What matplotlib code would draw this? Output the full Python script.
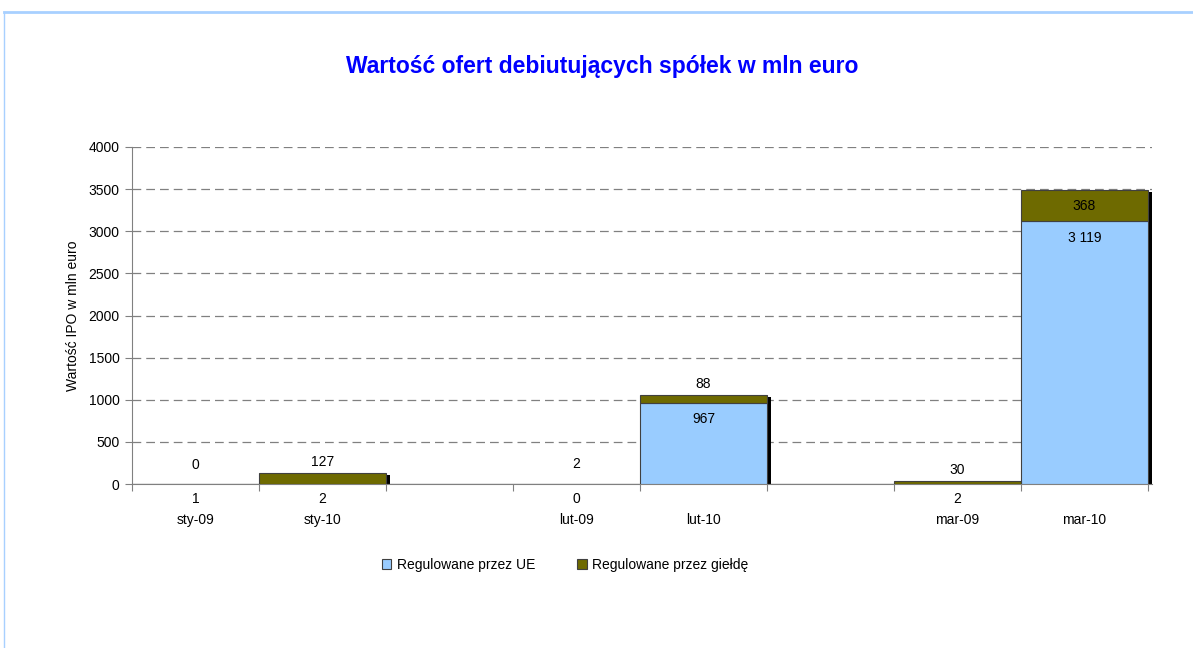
import numpy as np
import matplotlib
matplotlib.use("Agg")
import matplotlib.pyplot as plt
import matplotlib.transforms as mtransforms
from matplotlib.lines import Line2D
from matplotlib.patches import Patch

plt.rcParams["font.family"] = ["Liberation Sans", "DejaVu Sans"]

# data
months = ["sty-09", "sty-10", "", "lut-09", "lut-10", "", "mar-09", "mar-10"]
ipo_counts = ["1", "2", "", "0", "", "", "2", ""]
eu_regulated = [0, 0, np.nan, 0, 967, np.nan, 0, 3119]
exchange_regulated = [0, 127, np.nan, 2, 88, np.nan, 30, 368]

blue = "#99CCFF"
olive = "#6E6A00"

fig = plt.figure(figsize=(11.93, 6.48), dpi=100)
ax = fig.add_axes([132 / 1193, 1 - 484 / 648, (1152 - 132) / 1193, (484 - 147) / 648])

x = np.arange(len(months)) + 0.5
eu = np.array(eu_regulated, dtype=float)
ex = np.array(exchange_regulated, dtype=float)
total = np.nan_to_num(eu) + np.nan_to_num(ex)

# shadows, shifted a few pixels right and down
shadow_tr = ax.transData + mtransforms.ScaledTranslation(4 / 100, -2 / 100, fig.dpi_scale_trans)
for xi, t in zip(x, total):
    if t > 50:
        ax.bar(xi, t, width=1.0, color="black", transform=shadow_tr, zorder=2, linewidth=0)

ax.bar(x, np.nan_to_num(eu), width=1.0, color=blue, edgecolor="#404040", linewidth=0.8, zorder=3)
ax.bar(x, np.nan_to_num(ex), width=1.0, bottom=np.nan_to_num(eu), color=olive,
       edgecolor="#404040", linewidth=0.8, zorder=3)


def fmt(v):
    return f"{int(v):,}".replace(",", " ")


for xi, e, g in zip(x, eu, ex):
    if np.isnan(g):
        continue
    base = 0 if np.isnan(e) else e
    if g > 200:
        ax.text(xi, base + g / 2, fmt(g), ha="center", va="center", fontsize=10, zorder=4)
    else:
        off = 14 if base + g < 20 else 8
        ax.annotate(fmt(g), (xi, base + g), xytext=(0, off), textcoords="offset points",
                    ha="center", va="center", fontsize=10, zorder=4)
    if e > 0:
        ax.annotate(fmt(e), (xi, e), xytext=(0, -12), textcoords="offset points",
                    ha="center", va="center", fontsize=10, zorder=4)

ax.set_xlim(0, (1152 - 132) / 127)
ax.set_ylim(0, 4000)
ax.set_yticks(np.arange(0, 4001, 500))
ax.tick_params(axis="y", length=5, direction="out", color="#808080", labelsize=10, pad=4)
for yv in np.arange(500, 4001, 500):
    ax.axhline(yv, color="#808080", linestyle=(0, (7, 4)), linewidth=0.9, zorder=1)

ax.set_xticks(np.arange(0, len(months) + 1))
ax.set_xticklabels([])
ax.tick_params(axis="x", which="major", length=5, direction="out", color="#808080")
ax.set_xticks(x, minor=True)
ax.set_xticklabels([f"{c}\n{m}" if (c or m) else "" for c, m in zip(ipo_counts, months)],
                   minor=True, fontsize=10, linespacing=1.65)
ax.tick_params(axis="x", which="minor", length=0, pad=6)

for side in ["top", "right"]:
    ax.spines[side].set_visible(False)
for side in ["left", "bottom"]:
    ax.spines[side].set_color("#808080")

ax.set_ylabel("Wartość IPO w mln euro", fontsize=10, labelpad=6)

fig.text(602 / 1193, 1 - 67 / 648, "Wartość ofert debiutujących spółek w mln euro",
         ha="center", va="center", fontsize=16.5, fontweight="bold", color="#0000FF")

handles = [Patch(facecolor=blue, edgecolor="#404040", linewidth=0.8),
           Patch(facecolor=olive, edgecolor="#404040", linewidth=0.8)]
fig.legend(handles, ["Regulowane przez UE", "Regulowane przez giełdę"], loc="center",
           bbox_to_anchor=(565 / 1193, 1 - 565 / 648), ncol=2, frameon=False, fontsize=10,
           handlelength=0.7, handleheight=0.7, handletextpad=0.4, columnspacing=3.0)

# light blue frame around the chart area
fig.add_artist(Line2D([4 / 1193, 1], [1 - 12 / 648, 1 - 12 / 648], color="#A8D0FF", linewidth=2))
fig.add_artist(Line2D([4 / 1193, 4 / 1193], [0, 1 - 12 / 648], color="#A8D0FF", linewidth=1))

fig.savefig("out.png", dpi=100)
